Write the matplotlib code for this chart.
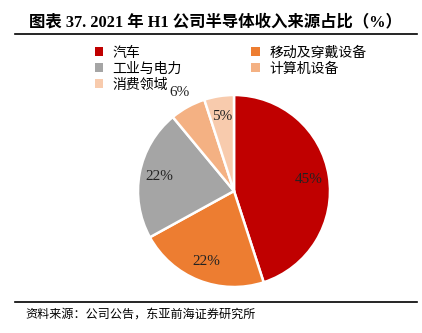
import matplotlib
matplotlib.use('Agg')
import matplotlib.pyplot as plt
from matplotlib.patches import Patch
from matplotlib.lines import Line2D
import numpy as np

plt.rcParams['font.family'] = ['Liberation Serif', 'Noto Sans CJK SC', 'DejaVu Sans']

categories = ['汽车', '移动及穿戴设备', '工业与电力', '计算机设备', '消费领域']
shares = [45, 22, 22, 6, 5]
colors = ['#C00000', '#ED7D31', '#A5A5A5', '#F4B183', '#F8CBAD']

title = '图表 37. 2021 年 H1 公司半导体收入来源占比（%）'
source = '资料来源：公司公告，东亚前海证券研究所'

W, H = 422, 333
fig = plt.figure(figsize=(W / 100, H / 100), dpi=100)

# title + rules
fig.text(215 / W, 1 - 22 / H, title, ha='center', va='center', fontsize=11.8, fontweight='bold')
fig.add_artist(Line2D([15 / W, 417 / W], [1 - 34 / H, 1 - 34 / H], color='black', lw=1.2))
fig.add_artist(Line2D([15 / W, 417 / W], [1 - 302 / H, 1 - 302 / H], color='black', lw=1.2))
fig.text(25 / W, 1 - 314 / H, source, ha='left', va='center', fontsize=8.7,
         family=['Noto Sans CJK SC'])

# pie
cx, cy, r = 234, 191, 96
ax = fig.add_axes([(cx - r) / W, 1 - (cy + r) / H, 2 * r / W, 2 * r / H])
wedges, texts, autotexts = ax.pie(shares, colors=colors, startangle=90, counterclock=False,
                                  autopct='%d%%', pctdistance=0.79,
                                  wedgeprops=dict(edgecolor='white', linewidth=1.8),
                                  textprops=dict(fontsize=11, color='#222222'))
# small slice label sits outside
w = wedges[3]
ang = np.deg2rad((w.theta1 + w.theta2) / 2)
autotexts[3].set_position((1.17 * np.cos(ang), 1.17 * np.sin(ang)))
ax.set_xlim(-1, 1)
ax.set_ylim(-1, 1)

# legend: column-major order to get row layout of reference
order = [0, 2, 4, 1, 3]
handles = [Patch(facecolor=colors[i], edgecolor='none') for i in order]
labels = [categories[i] for i in order]
fig.legend(handles, labels, ncol=2, loc='upper left', bbox_to_anchor=(82 / W, 1 - 33 / H),
           frameon=False, handlelength=0.6, handleheight=0.6, handletextpad=0.7,
           columnspacing=5.0, labelspacing=0.15,
           prop=dict(family=['Noto Sans CJK SC'], size=10))

fig.savefig('out.png', dpi=100)
